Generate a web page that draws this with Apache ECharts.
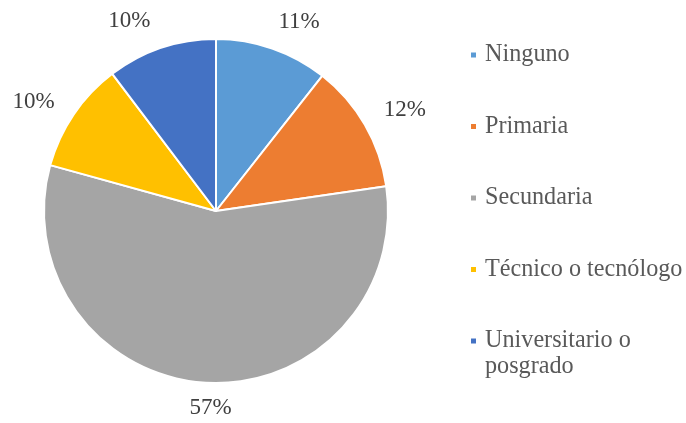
<!DOCTYPE html>
<html><head><meta charset="utf-8">
<script src="https://cdn.jsdelivr.net/npm/echarts@6/dist/echarts.min.js"></script>
<style>html,body{margin:0;padding:0;background:#fff}#c{width:686px;height:423px}</style>
</head><body><div id="c"></div>
<script>
const categories = ['Ninguno', 'Primaria', 'Secundaria', 'Técnico o tecnólogo', 'Universitario o posgrado'];
const values = [10.6, 12.1, 56.6, 10.4, 10.3];
const colors = ['#5B9BD5', '#ED7D31', '#A5A5A5', '#FFC000', '#4472C4'];

// per-slice label offsets (layout only)
const labelLen = [28, 30, 25, 22, 28];
const labelLen2 = [-8, -12, -33, -4, -3];

const chart = echarts.init(document.getElementById('c'));
const font = '"Liberation Serif", "Times New Roman", serif';
const legendBase = {
  orient: 'vertical',
  left: 469,
  height: 400,
  padding: 0,
  itemWidth: 7,
  itemHeight: 7,
  itemGap: 45.5,
  icon: 'rect'
};
const textBase = { fontFamily: font, fontSize: 24.2, color: '#595959', lineHeight: 26, padding: [0, 0, 0, 3] };
chart.setOption({
  animation: false,
  legend: [
    Object.assign({}, legendBase, {
      top: 42,
      textStyle: textBase,
      data: categories.slice(0, 4)
    }),
    Object.assign({}, legendBase, {
      top: 302,
      textStyle: textBase,
      // leading blank line keeps the first text line level with the marker
      formatter: n => '\n' + n.replace(' posgrado', '\nposgrado'),
      data: categories.slice(4)
    })
  ],
  series: [{
    type: 'pie',
    center: [216, 211],
    radius: [0, 172],
    startAngle: 90,
    clockwise: true,
    avoidLabelOverlap: false,
    itemStyle: { borderColor: '#fff', borderWidth: 2 },
    label: {
      show: true,
      position: 'outside',
      formatter: '{d}%',
      fontFamily: font,
      fontSize: 23,
      color: '#404040'
    },
    percentPrecision: 0,
    labelLine: { show: false, length: 30, length2: -8 },
    emphasis: { disabled: true },
    data: categories.map((n, i) => ({
      name: n, value: values[i],
      itemStyle: { color: colors[i] },
      labelLine: { show: false, length: labelLen[i], length2: labelLen2[i] }
    }))
  }]
});
</script></body></html>
